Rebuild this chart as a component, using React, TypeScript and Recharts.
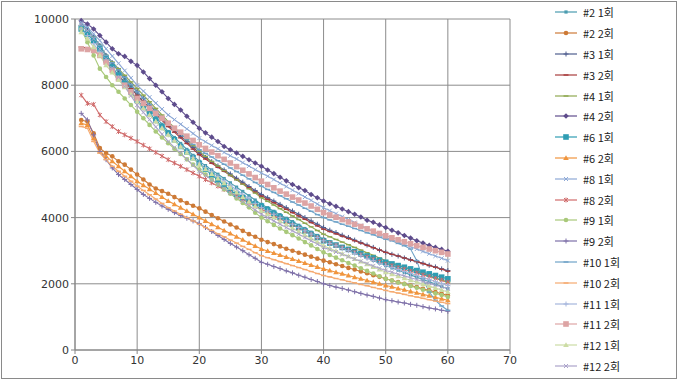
import React from 'react';
import {
  CartesianGrid,
  Legend,
  Line,
  LineChart,
  XAxis,
  YAxis} from 'recharts';

// cycle number on the x axis
const cycles = Array.from({ length: 60 }, (_, i) => i + 1);

const xTicks = [0, 10, 20, 30, 40, 50, 60, 70];
const yTicks = [0, 2000, 4000, 6000, 8000, 10000];

const s2a = [9850,9700,9450,9200,8900,8660,8420,8180,7940,7700,7480,7260,7040,6820,6600,6420,6240,6060,5880,5700,5570,5440,5310,5180,5050,4920,4790,4660,4530,4400,4300,4190,4090,3980,3880,3770,3670,3560,3460,3350,3270,3190,3110,3030,2950,2870,2790,2710,2630,2550,2480,2410,2340,2270,2200,2130,2060,1990,1920,1850];
const s2b = [6950,6900,6550,6100,5950,5850,5700,5600,5450,5300,5150,5000,4880,4800,4720,4620,4520,4440,4360,4280,4180,4080,3980,3880,3790,3700,3600,3500,3420,3330,3260,3200,3130,3060,3000,2940,2880,2820,2760,2700,2650,2590,2540,2480,2430,2370,2320,2260,2210,2150,2100,2050,2000,1950,1900,1850,1800,1750,1700,1650];
const s3a = [9800,9650,9450,9200,8900,8680,8460,8240,8020,7800,7600,7400,7200,7000,6800,6630,6460,6290,6120,5950,5820,5690,5560,5440,5320,5190,5070,4940,4820,4700,4600,4500,4400,4300,4200,4100,4000,3900,3800,3700,3620,3550,3470,3400,3320,3250,3170,3100,3020,2950,2890,2840,2780,2730,2670,2620,2560,2510,2450,2400];
const s3b = [9150,9120,9050,8900,8700,8500,8300,8100,7900,7700,7510,7320,7130,6940,6750,6580,6410,6240,6070,5900,5770,5640,5520,5400,5270,5150,5020,4900,4770,4650,4550,4450,4350,4250,4150,4050,3950,3850,3750,3650,3580,3510,3440,3370,3300,3230,3160,3090,3020,2950,2890,2840,2780,2720,2670,2610,2550,2500,2440,2380];
const s4a = [9800,9650,9450,9200,8900,8700,8500,8300,8100,7900,7700,7500,7300,7100,6900,6720,6540,6360,6180,6000,5850,5700,5560,5420,5280,5140,5010,4870,4740,4600,4490,4380,4270,4160,4050,3940,3830,3720,3610,3500,3420,3340,3260,3180,3100,3020,2940,2860,2780,2700,2630,2570,2500,2440,2370,2310,2240,2180,2110,2050];
const s4b = [9950,9850,9700,9500,9300,9100,8950,8870,8720,8600,8400,8200,8000,7800,7600,7420,7250,7060,6880,6700,6560,6430,6300,6150,6050,5950,5850,5750,5650,5550,5440,5330,5220,5110,5000,4900,4820,4700,4600,4500,4420,4340,4260,4180,4100,4020,3920,3860,3780,3700,3620,3540,3460,3380,3300,3230,3160,3100,3040,2980];
const s6a = [9700,9550,9350,9100,8800,8550,8300,8050,7800,7550,7350,7150,6950,6750,6550,6350,6150,5980,5810,5640,5460,5290,5130,4970,4820,4700,4600,4500,4420,4350,4240,4130,4020,3910,3800,3700,3600,3500,3400,3300,3230,3170,3100,3040,2970,2910,2840,2780,2710,2650,2600,2550,2500,2450,2400,2350,2300,2250,2200,2150];
const s6b = [6850,6800,6400,6000,5850,5700,5550,5400,5250,5100,4980,4860,4740,4620,4500,4400,4300,4200,4100,4000,3900,3800,3710,3610,3520,3420,3330,3230,3140,3050,2990,2930,2870,2810,2750,2690,2630,2570,2510,2450,2400,2350,2300,2250,2200,2150,2100,2050,2000,1950,1910,1860,1820,1770,1730,1680,1640,1590,1550,1500];
const s8a = [9900,9750,9550,9350,9100,8880,8660,8440,8220,8000,7820,7640,7460,7280,7100,6960,6820,6680,6540,6400,6290,6180,6080,5970,5870,5770,5660,5560,5450,5350,5250,5150,5040,4940,4830,4730,4620,4520,4410,4300,4210,4120,4030,3940,3850,3760,3670,3580,3490,3400,3330,3260,3190,3120,3050,2980,2910,2840,2770,2700];
const s8b = [7700,7450,7420,7100,6900,6750,6600,6500,6400,6300,6190,6080,5970,5860,5750,5650,5550,5450,5350,5250,5150,5050,4950,4850,4750,4650,4550,4450,4350,4250,4160,4060,3970,3870,3780,3680,3590,3490,3400,3300,3230,3160,3090,3020,2950,2880,2810,2740,2670,2600,2550,2490,2440,2380,2330,2270,2220,2160,2110,2050];
const s9a = [9700,9300,8900,8500,8250,8000,7800,7600,7400,7200,7000,6800,6600,6420,6250,6080,5920,5760,5600,5450,5300,5150,5000,4860,4720,4580,4440,4310,4150,4000,3890,3780,3670,3570,3470,3370,3260,3160,3050,2950,2870,2790,2710,2630,2550,2470,2390,2310,2230,2150,2100,2040,1990,1930,1880,1820,1770,1710,1660,1600];
const s9b = [7150,6950,6500,6000,5750,5500,5300,5150,5000,4850,4700,4580,4460,4350,4250,4150,4060,3980,3900,3820,3700,3580,3460,3340,3220,3110,3000,2880,2770,2650,2590,2520,2460,2390,2330,2260,2200,2130,2070,2000,1950,1900,1860,1810,1760,1710,1660,1620,1570,1520,1490,1450,1420,1380,1350,1310,1270,1240,1200,1170];
const s10a = [9800,9650,9450,9200,8900,8680,8460,8240,8020,7800,7610,7420,7230,7040,6850,6690,6530,6370,6210,6050,5940,5830,5720,5610,5500,5390,5280,5170,5060,4950,4850,4760,4660,4570,4470,4380,4280,4190,4090,4000,3930,3870,3800,3740,3670,3610,3540,3480,3410,3350,3300,3220,3150,3050,2700,2150,1750,1500,1330,1200];
const s10b = [6750,6700,6300,5950,5750,5550,5400,5250,5100,4950,4820,4690,4560,4430,4300,4200,4100,4000,3900,3800,3700,3610,3510,3420,3320,3230,3130,3040,2940,2850,2790,2730,2670,2610,2550,2490,2430,2370,2310,2250,2210,2160,2120,2070,2030,1980,1940,1890,1850,1800,1760,1720,1680,1640,1600,1560,1520,1480,1440,1400];
const s11a = [9700,9500,9250,9000,8700,8460,8220,7980,7740,7500,7300,7100,6900,6700,6500,6330,6160,5990,5820,5650,5510,5380,5240,5110,4970,4840,4700,4570,4430,4300,4200,4100,4000,3900,3800,3700,3600,3500,3400,3300,3220,3150,3070,3000,2920,2850,2770,2700,2620,2550,2490,2430,2370,2310,2250,2190,2130,2070,2010,1950];
const s11b = [9100,9080,9050,8900,8700,8450,8200,8000,7800,7600,7450,7300,7150,7000,6850,6700,6580,6460,6330,6200,6090,5980,5870,5760,5650,5540,5430,5320,5210,5100,5000,4900,4800,4710,4620,4530,4440,4350,4250,4150,4080,4010,3940,3870,3800,3730,3660,3590,3520,3450,3390,3330,3270,3210,3150,3100,3050,3000,2950,2900];
const s12a = [9600,9400,9150,8900,8600,8380,8160,7940,7720,7500,7300,7100,6900,6700,6500,6320,6140,5960,5780,5600,5460,5320,5180,5040,4900,4760,4620,4480,4340,4200,4100,4000,3890,3790,3680,3580,3470,3370,3260,3150,3070,2990,2910,2830,2750,2670,2590,2510,2430,2350,2290,2230,2170,2110,2050,1990,1930,1870,1810,1750];
const s12b = [9850,9650,9400,9100,8800,8520,8240,7960,7680,7400,7180,6960,6740,6520,6300,6120,5940,5760,5580,5400,5270,5140,5010,4880,4750,4620,4490,4360,4230,4100,4000,3900,3800,3700,3600,3500,3400,3300,3200,3100,3030,2960,2890,2820,2750,2680,2610,2540,2470,2400,2350,2290,2240,2180,2130,2070,2020,1960,1910,1850];

const seriesValues = [s2a, s2b, s3a, s3b, s4a, s4b, s6a, s6b, s8a, s8b, s9a, s9b, s10a, s10b, s11a, s11b, s12a, s12b];
const seriesNames = ['#2 1회', '#2 2회', '#3 1회', '#3 2회', '#4 1회', '#4 2회', '#6 1회', '#6 2회', '#8 1회', '#8 2회', '#9 1회', '#9 2회', '#10 1회', '#10 2회', '#11 1회', '#11 2회', '#12 1회', '#12 2회'];
const seriesColors = ['#4a9cb0', '#cd7a36', '#4e5d8e', '#a83c3c', '#8fa850', '#5e4c8c', '#2f9db3', '#f0953e', '#8ea9d6', '#d06c6c', '#a9c97a', '#7e70a8', '#6fa3c8', '#f5aa70', '#a5b5dc', '#dda4a4', '#ccdca4', '#aba3ca'];
const seriesShapes = ['sq', 'circle', 'plus', 'dash', 'dash', 'diamond', 'bigsq', 'tri', 'x', 'star', 'circle', 'plus', 'dash', 'dash', 'plus', 'bigsq', 'tri', 'x'];

const data = cycles.map((x, i) => {
  const row: Record<string, number> = { x };
  seriesValues.forEach((vals, k) => { row['s' + k] = vals[i]; });
  return row;
});

const Marker = ({ cx, cy, shape, color }: { cx: number; cy: number; shape: string; color: string }) => {
  switch (shape) {
    case 'sq':
      return <rect x={cx - 1.6} y={cy - 1.6} width={3.2} height={3.2} fill={color} />;
    case 'bigsq':
      return <rect x={cx - 2.8} y={cy - 2.8} width={5.6} height={5.6} fill={color} />;
    case 'circle':
      return <circle cx={cx} cy={cy} r={2.3} fill={color} />;
    case 'diamond':
      return <path d={`M${cx},${cy - 2.8}L${cx + 2.8},${cy}L${cx},${cy + 2.8}L${cx - 2.8},${cy}Z`} fill={color} />;
    case 'tri':
      return <path d={`M${cx},${cy - 2.8}L${cx + 2.8},${cy + 2}L${cx - 2.8},${cy + 2}Z`} fill={color} />;
    case 'plus':
      return <path d={`M${cx - 2.5},${cy}H${cx + 2.5}M${cx},${cy - 2.5}V${cy + 2.5}`} stroke={color} strokeWidth={1} />;
    case 'dash':
      return <path d={`M${cx - 2.5},${cy}H${cx + 2.5}`} stroke={color} strokeWidth={1.4} />;
    case 'x':
      return <path d={`M${cx - 2},${cy - 2}L${cx + 2},${cy + 2}M${cx - 2},${cy + 2}L${cx + 2},${cy - 2}`} stroke={color} strokeWidth={1} />;
    case 'star':
      return <path d={`M${cx - 2},${cy - 2}L${cx + 2},${cy + 2}M${cx - 2},${cy + 2}L${cx + 2},${cy - 2}M${cx},${cy - 2.5}V${cy + 2.5}`} stroke={color} strokeWidth={1} />;
    default:
      return null;
  }
};

const renderLegend = () => (
  <div style={{ fontFamily: "'Noto Sans CJK KR', sans-serif", fontSize: 11, color: '#222' }}>
    {seriesNames.map((name, k) => (
      <div key={name} style={{ height: 20.8, display: 'flex', alignItems: 'center' }}>
        <svg width={26} height={10} style={{ overflow: 'visible' }}>
          <line x1={0} y1={5} x2={22} y2={5} stroke={seriesColors[k]} strokeWidth={1.2} />
          <Marker cx={11} cy={5} shape={seriesShapes[k]} color={seriesColors[k]} />
        </svg>
        <span style={{ marginLeft: 2 }}>{name}</span>
      </div>
    ))}
  </div>
);

export default function App() {
  return (
    <div style={{ position: 'absolute', left: 0, top: 0, width: 680, height: 385, background: '#fff' }}>
      <div style={{ position: 'absolute', left: 1, top: 1, width: 674, height: 376, border: '1px solid #8a8a8a' }} />
      <LineChart
        width={680}
        height={385}
        data={data}
        margin={{ top: 19, right: 50, bottom: 5, left: 25 }}
      >
        <CartesianGrid stroke="#8c8c8c" strokeWidth={1} />
        <XAxis
          type="number"
          dataKey="x"
          domain={[0, 70]}
          ticks={xTicks}
          interval={0}
          height={30}
          stroke="#868686"
          tickSize={4}
          tick={{ fill: '#333', fontSize: 11, fontFamily: 'DejaVu Sans' }}
        />
        <YAxis
          type="number"
          domain={[0, 10000]}
          ticks={yTicks}
          interval={0}
          width={50}
          stroke="#868686"
          tickSize={4}
          tick={{ fill: '#333', fontSize: 11, fontFamily: 'DejaVu Sans' }}
        />
        <Legend
          layout="vertical"
          align="right"
          verticalAlign="top"
          content={renderLegend}
          wrapperStyle={{ left: 555, top: 2, width: 120 }}
        />
        {seriesNames.map((name, k) => (
          <Line
            key={name}
            name={name}
            dataKey={'s' + k}
            stroke={seriesColors[k]}
            strokeWidth={1.1}
            isAnimationActive={false}
            dot={(p: any) => (
              <Marker key={'d' + k + '-' + p.index} cx={p.cx} cy={p.cy} shape={seriesShapes[k]} color={seriesColors[k]} />
            )}
            activeDot={false}
          />
        ))}
      </LineChart>
    </div>
  );
}
